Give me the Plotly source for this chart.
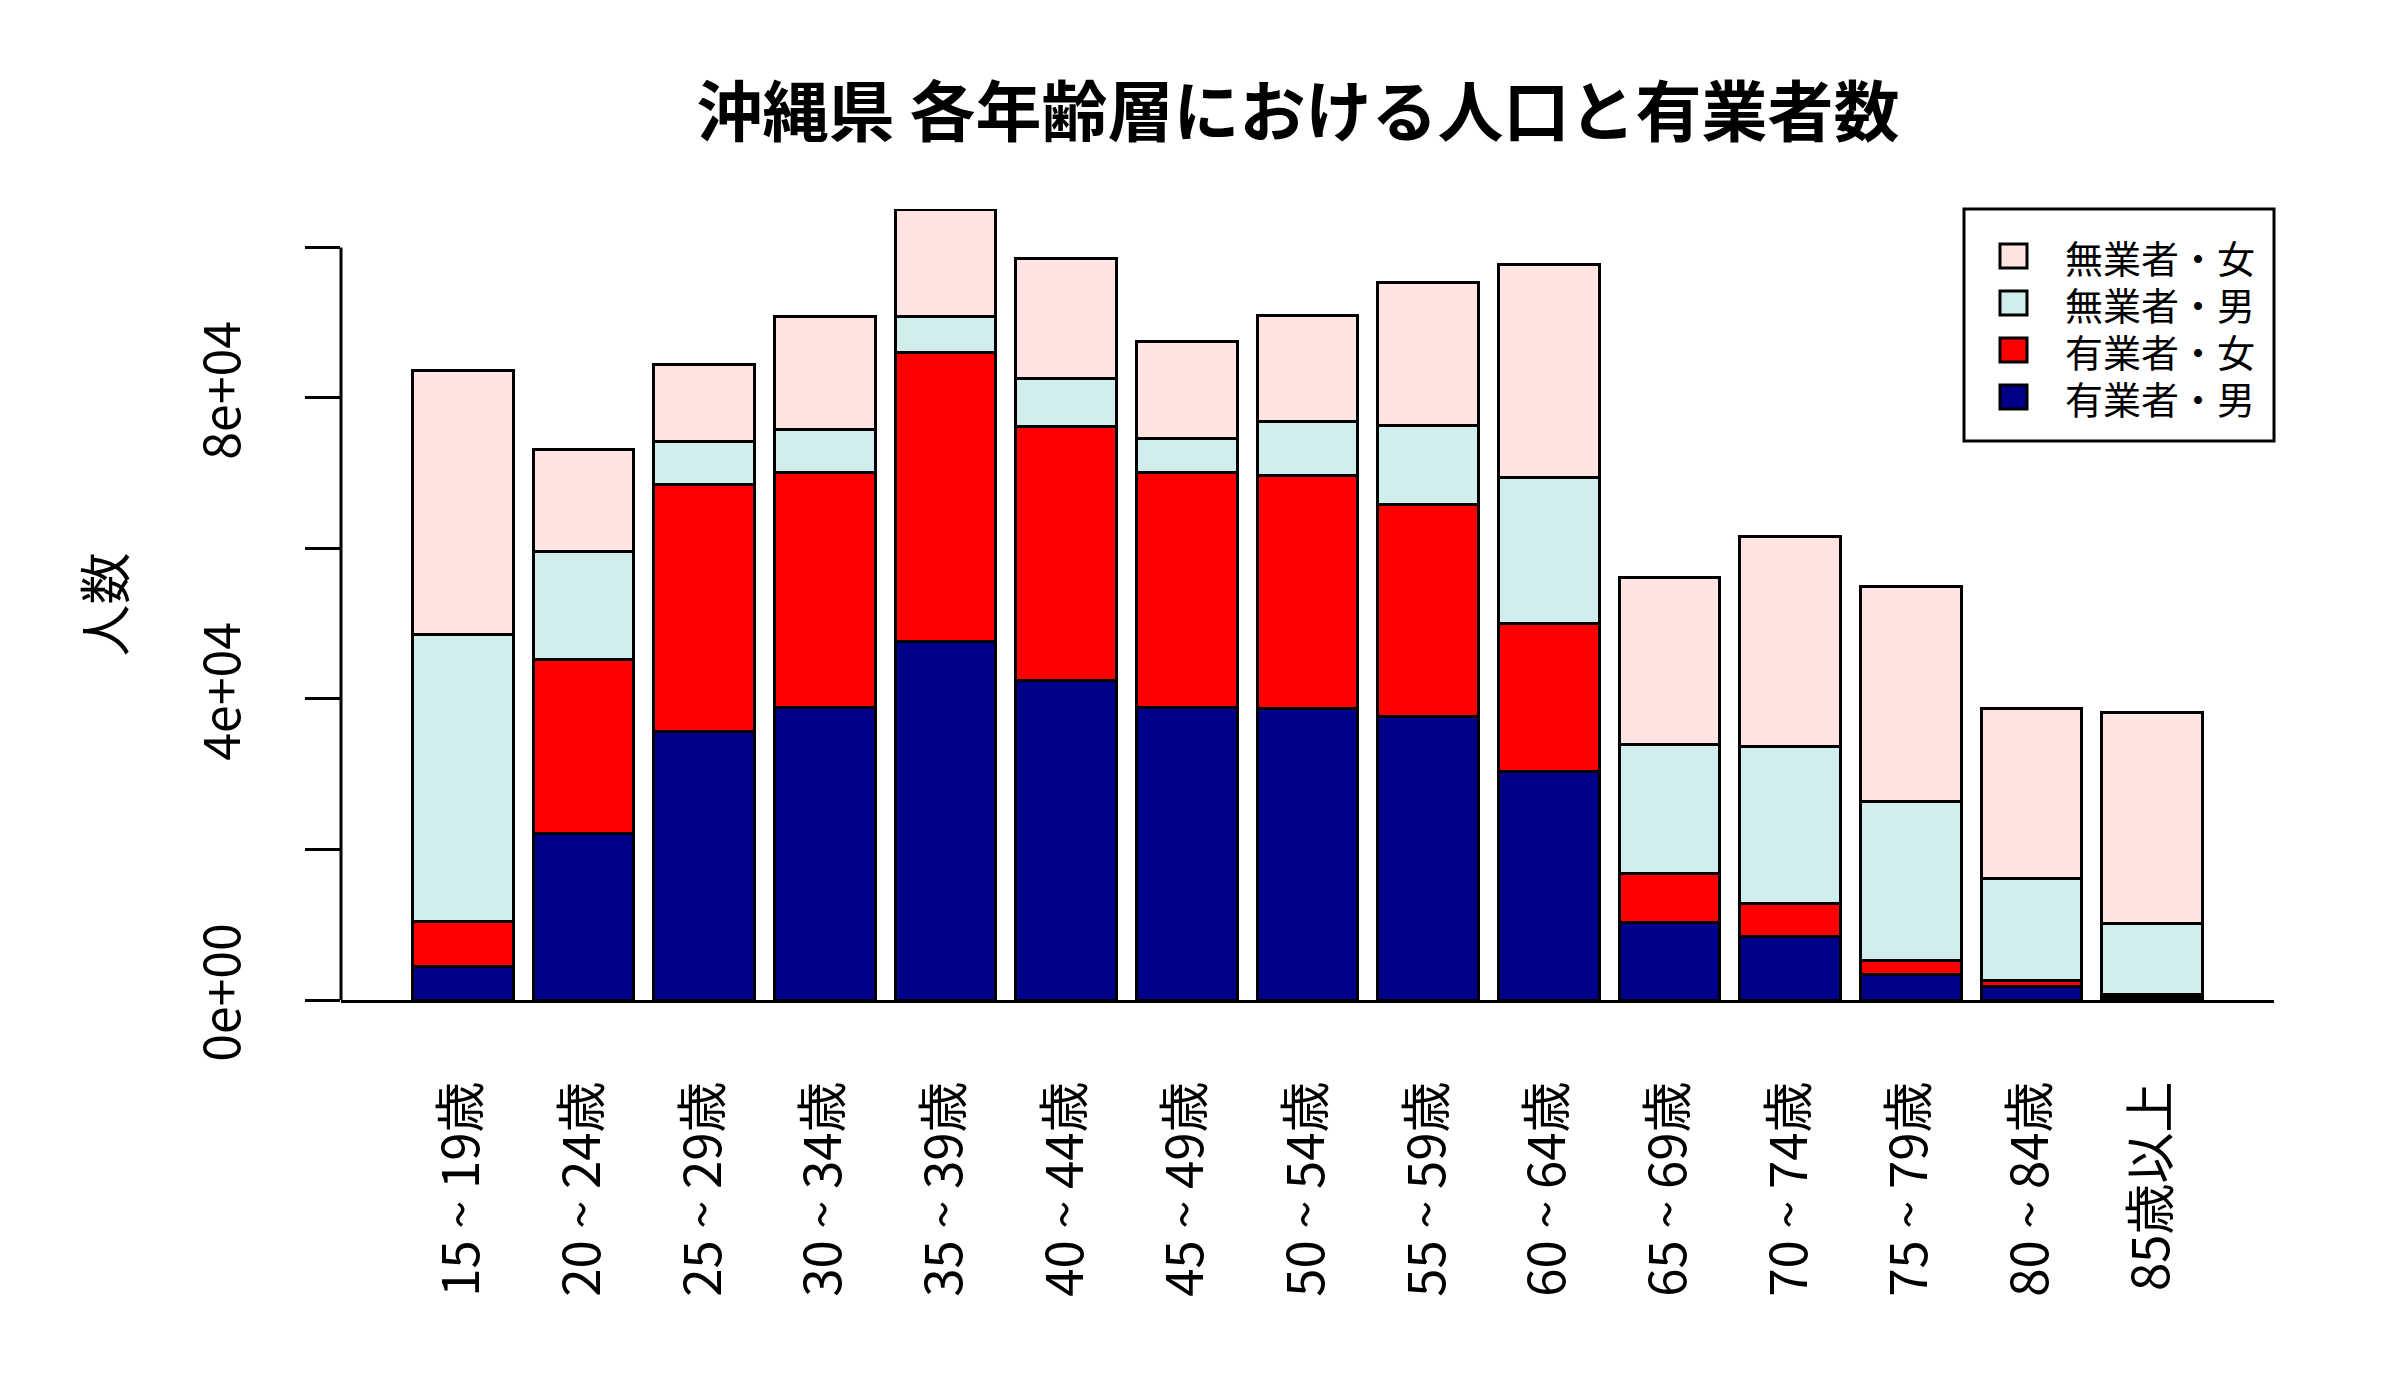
import plotly.graph_objects as go

# ---- data ----
categories = ["15 ~ 19歳", "20 ~ 24歳", "25 ~ 29歳", "30 ~ 34歳", "35 ~ 39歳",
              "40 ~ 44歳", "45 ~ 49歳", "50 ~ 54歳", "55 ~ 59歳", "60 ~ 64歳",
              "65 ~ 69歳", "70 ~ 74歳", "75 ~ 79歳", "80 ~ 84歳", "85歳以上"]
employed_male = [4400, 22100, 35700, 38800, 47600, 42500, 38900, 38700, 37700, 30400,
                 10300, 8400, 3400, 1800, 300]
employed_female = [6000, 23100, 32800, 31300, 38400, 33700, 31200, 31000, 28100, 19600,
                   6500, 4400, 1900, 800, 450]
unemployed_male = [38200, 14400, 5700, 5700, 4800, 6400, 4500, 7100, 10600, 19400,
                   17200, 20900, 21100, 13600, 9450]
unemployed_female = [35000, 13600, 10300, 15000, 14300, 15900, 12900, 14100, 18900, 28300,
                     22200, 27900, 28500, 22500, 28000]
series_names = ["有業者・男", "有業者・女", "無業者・男", "無業者・女"]
series_values = [employed_male, employed_female, unemployed_male, unemployed_female]
series_colors = ["#00008B", "#FF0000", "#D1EEEE", "#FFE4E1"]
ytick_vals = [0, 20000, 40000, 60000, 80000, 100000]
ytick_text = ["0e+00", "", "4e+04", "", "8e+04", ""]
title_text = "沖縄県 各年齢層における人口と有業者数"
ylabel_text = "人数"

# ---- layout geometry (pixels) ----
W, H = 2400, 1400
L, R, T, B = 333, 134, 201, 408
PW, PH = W - L - R, H - T - B


def px_x(p):
    return (p - L) / PW


def px_y(p):
    return (H - B - p) / PH


FONT = "Noto Sans CJK JP, Liberation Sans, sans-serif"

fig = go.Figure()
for name, vals, col in zip(series_names, series_values, series_colors):
    fig.add_bar(x=categories, y=vals, name=name,
                marker=dict(color=col, line=dict(color="black", width=3)),
                showlegend=False)

totals = [sum(v) for v in zip(*series_values)]
ymax = max(totals)

fig.update_layout(
    barmode="stack", bargap=1 / 6,
    width=W, height=H,
    margin=dict(l=L, r=R, t=T, b=B, pad=0),
    paper_bgcolor="white", plot_bgcolor="white",
    font=dict(family=FONT, color="black"),
    title=dict(text=title_text, x=px_x(1290), xref="paper", xanchor="center",
               y=1 - 105 / H, yref="container", yanchor="middle",
               font=dict(size=66, weight="bold", family=FONT, color="black")),
)
fig.update_xaxes(type="category", range=[-1.01, len(categories) + 0.01],
                 showline=True, linecolor="black", linewidth=3,
                 ticks="", tickangle=-90, tickfont=dict(size=51, family=FONT),
                 ticklabelstandoff=58, showgrid=False, zeroline=False,
                 automargin=False)
fig.update_yaxes(range=[0, ymax], tickmode="array", tickvals=ytick_vals,
                 ticktext=ytick_text, ticks="outside", ticklen=35, tickwidth=3,
                 tickcolor="black", tickangle=-90,
                 tickfont=dict(size=50, family=FONT),
                 ticklabelstandoff=45, showgrid=False, zeroline=False,
                 showline=False, automargin=False)

# y axis line from first to last tick (R style)
fig.add_shape(type="line", xref="paper", yref="y", x0=0, x1=0,
              y0=ytick_vals[0], y1=ytick_vals[-1],
              line=dict(color="black", width=3), layer="above")

# y axis title
fig.add_annotation(text=ylabel_text, xref="paper", yref="paper",
                   x=px_x(94), y=0.5, showarrow=False, textangle=-90,
                   font=dict(size=52, family=FONT, color="black"),
                   xanchor="center", yanchor="middle")

# legend box (top right of plot area)
fig.add_shape(type="rect", xref="paper", yref="paper",
              x0=px_x(1956), x1=1, y0=px_y(433), y1=1,
              line=dict(color="black", width=3), fillcolor="white", layer="above")
row_centers = [248, 295, 342, 389]
for rc, name, col in zip(row_centers, series_names[::-1], series_colors[::-1]):
    fig.add_shape(type="rect", xref="paper", yref="paper",
                  x0=px_x(1992), x1=px_x(2019), y0=px_y(rc + 12), y1=px_y(rc - 12),
                  line=dict(color="black", width=3), fillcolor=col, layer="above")
    fig.add_annotation(text=name, xref="paper", yref="paper",
                       x=px_x(2055), y=px_y(rc), showarrow=False,
                       xanchor="left", yanchor="middle", height=44,
                       font=dict(size=38, family=FONT, color="black"))

fig.write_html("out.html")
